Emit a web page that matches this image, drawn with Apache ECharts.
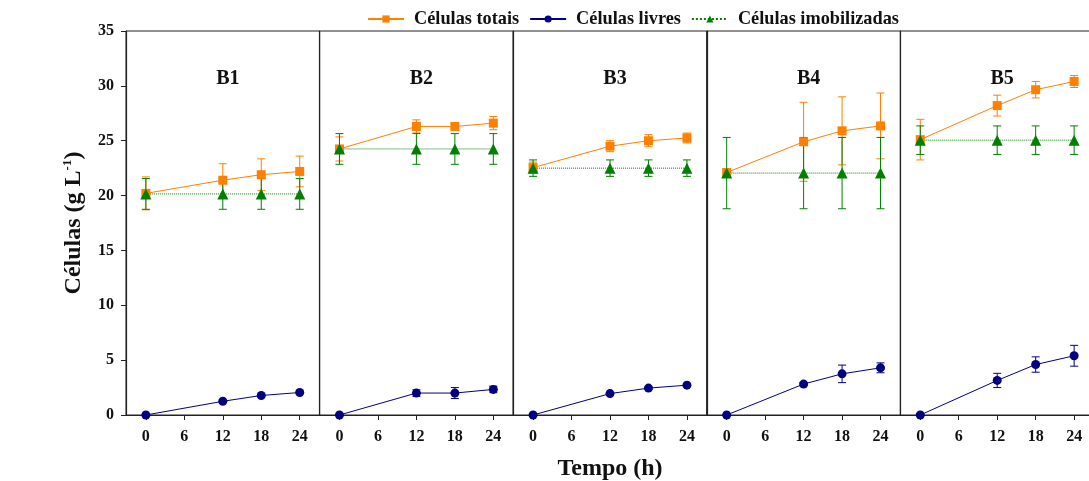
<!DOCTYPE html>
<html>
<head>
<meta charset="utf-8">
<script src="https://cdn.jsdelivr.net/npm/echarts@6/dist/echarts.min.js"></script>
<style>
  html, body { margin: 0; padding: 0; background: #fff; }
  #chart { width: 1089px; height: 481px; }
</style>
</head>
<body>
<div id="chart"></div>
<script>
// tempo (h)
const tempos = [0, 12, 18, 24]
const paineis = ['B1', 'B2', 'B3', 'B4', 'B5']
const xTicks = [0, 6, 12, 18, 24]

// Células totais (média e desvio) por painel
const totais = [
  [20.2, 21.4, 21.9, 22.2],
  [24.25, 26.3, 26.3, 26.6],
  [22.55, 24.5, 25.0, 25.25],
  [22.1, 24.9, 25.9, 26.35],
  [25.1, 28.2, 29.65, 30.4]
]
const totaisErr = [
  [1.5, 1.5, 1.45, 1.4],
  [1.1, 0.6, 0.2, 0.6],
  [0.5, 0.5, 0.55, 0.45],
  [0.3, 3.6, 3.1, 3.0],
  [1.85, 0.95, 0.75, 0.55]
]

// Células livres
const livres = [
  [0, 1.25, 1.78, 2.05],
  [0, 2.0, 2.0, 2.33],
  [0, 1.95, 2.45, 2.72],
  [0, 2.82, 3.75, 4.3],
  [0, 3.15, 4.6, 5.4]
]
const livresErr = [
  [0, 0.1, 0.1, 0.1],
  [0, 0.3, 0.5, 0.3],
  [0, 0.1, 0.1, 0.1],
  [0, 0.15, 0.8, 0.45],
  [0, 0.65, 0.7, 0.95]
]

// Células imobilizadas
const imobilizadas = [
  [20.15, 20.15, 20.15, 20.15],
  [24.25, 24.25, 24.25, 24.25],
  [22.5, 22.5, 22.5, 22.5],
  [22.05, 22.05, 22.05, 22.05],
  [25.05, 25.05, 25.05, 25.05]
]
const imobilizadasErr = [
  [1.4, 1.4, 1.4, 1.4],
  [1.4, 1.4, 1.4, 1.4],
  [0.75, 0.75, 0.75, 0.75],
  [3.25, 3.25, 3.25, 3.25],
  [1.3, 1.3, 1.3, 1.3]
]

const corTotais = '#ff8000'
const corLivres = '#000080'
const corImob = '#008000'
const fonte = '"Liberation Serif", "DejaVu Serif", serif'

const chart = echarts.init(document.getElementById('chart'))

const left0 = 126
const larg = 193.6
const topo = 31
const alt = 384

const grids = [], xAxes = [], yAxes = [], series = [], titulos = []

const errorBar = (color) => (params, api) => {
  const x = api.value(0)
  const p1 = api.coord([x, api.value(1)])
  const p2 = api.coord([x, api.value(2)])
  const w = 4
  const st = { stroke: color, lineWidth: 1 }
  return {
    type: 'group',
    children: [
      { type: 'line', shape: { x1: p1[0], y1: p1[1], x2: p2[0], y2: p2[1] }, style: st },
      { type: 'line', shape: { x1: p1[0] - w, y1: p1[1], x2: p1[0] + w, y2: p1[1] }, style: st },
      { type: 'line', shape: { x1: p2[0] - w, y1: p2[1], x2: p2[0] + w, y2: p2[1] }, style: st }
    ]
  }
}

paineis.forEach((nome, i) => {
  grids.push({
    left: left0 + i * larg, top: topo, width: larg, height: alt,
    outerBoundsMode: 'none', containLabel: false,
    show: true, borderColor: '#222', borderWidth: 1, backgroundColor: 'transparent'
  })
  xAxes.push({
    type: 'value', gridIndex: i, min: -3.1, max: 27.1,
    axisLine: { onZero: false, lineStyle: { color: '#222', width: 1.2 } },
    axisTick: { customValues: xTicks, length: 5, lineStyle: { color: '#222' } },
    axisLabel: { customValues: xTicks, color: '#111', fontFamily: fonte, fontWeight: 'bold', fontSize: 16, margin: 14 },
    splitLine: { show: false },
    name: i === 2 ? 'Tempo (h)' : '',
    nameLocation: 'middle', nameGap: 42,
    nameTextStyle: { color: '#111', fontFamily: fonte, fontWeight: 'bold', fontSize: 24 }
  })
  yAxes.push({
    type: 'value', gridIndex: i, min: 0, max: 35, interval: 5,
    axisLine: { show: true, onZero: false, lineStyle: { color: '#222', width: 1.2 } },
    axisTick: { show: i === 0, length: 5, lineStyle: { color: '#222' } },
    axisLabel: { show: i === 0, color: '#111', fontFamily: fonte, fontWeight: 'bold', fontSize: 16, margin: 12 },
    splitLine: { show: false },
    name: i === 0 ? '{a|Células (g L}{s|-1}{a|)}' : '',
    nameLocation: 'middle', nameGap: 40, nameRotate: 90,
    nameTextStyle: {
      rich: {
        a: { color: '#111', fontFamily: fonte, fontWeight: 'bold', fontSize: 24 },
        s: { color: '#111', fontFamily: fonte, fontWeight: 'bold', fontSize: 13, verticalAlign: 'top', padding: [0, 0, 12, 0] }
      }
    }
  })
  titulos.push({
    text: nome, left: left0 + i * larg + larg / 2, top: 64, textAlign: 'center',
    textStyle: { color: '#111', fontFamily: fonte, fontWeight: 'bold', fontSize: 20 }
  })

  const grupos = [
    ['Células totais', totais[i], totaisErr[i], corTotais, 'rect', 9, 'solid'],
    ['Células livres', livres[i], livresErr[i], corLivres, 'circle', 9, 'solid'],
    ['Células imobilizadas', imobilizadas[i], imobilizadasErr[i], corImob, 'triangle', 11, 'dotted']
  ]
  grupos.forEach(([nomeS, vals, errs, cor]) => {
    series.push({
      name: nomeS + ' err', type: 'custom', xAxisIndex: i, yAxisIndex: i, z: 2,
      renderItem: errorBar(cor), silent: true,
      encode: { x: 0, y: [1, 2] },
      data: tempos.map((t, k) => [t, vals[k] - errs[k], vals[k] + errs[k]])
    })
  })
  grupos.forEach(([nomeS, vals, errs, cor, simb, tam, tipo]) => {
    series.push({
      name: nomeS, type: 'line', xAxisIndex: i, yAxisIndex: i, z: 3,
      symbol: simb, symbolSize: tam,
      itemStyle: { color: cor },
      lineStyle: { color: cor, width: 1, type: tipo },
      data: tempos.map((t, k) => [t, vals[k]])
    })
  })
})

chart.setOption({
  backgroundColor: '#fff',
  animation: false,
  title: titulos,
  legend: {
    data: ['Células totais', 'Células livres', 'Células imobilizadas'],
    top: 5, left: 362, itemWidth: 36, itemHeight: 9, itemGap: 10,
    textStyle: { color: '#111', fontFamily: fonte, fontWeight: 'bold', fontSize: 18.3, padding: [0, 0, 0, 5] }
  },
  grid: grids,
  xAxis: xAxes,
  yAxis: yAxes,
  series: series
})
</script>
</body>
</html>
